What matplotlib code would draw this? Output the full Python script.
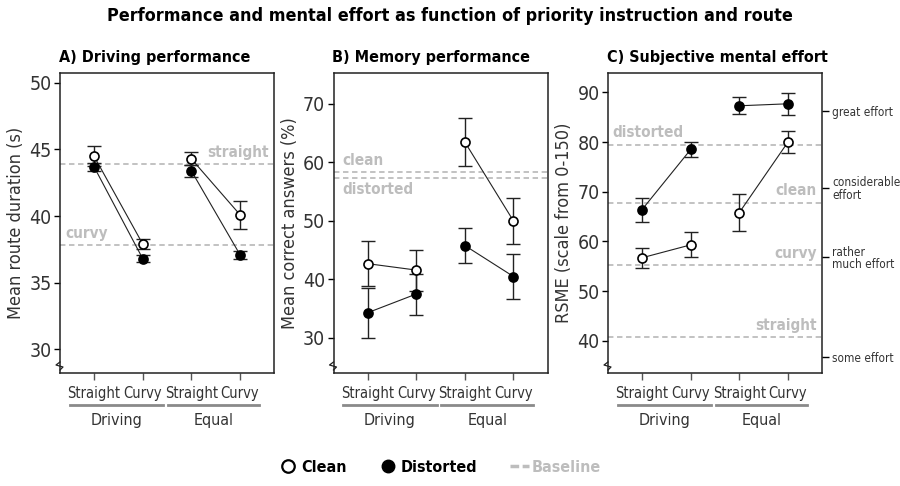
import numpy as np
import matplotlib
matplotlib.use("Agg")
import matplotlib.pyplot as plt
from matplotlib.lines import Line2D

plt.rcParams['font.family'] = ['DejaVu Sans']
plt.rcParams['font.stretch'] = 'condensed'

# categories
routes = ["Straight", "Curvy", "Straight", "Curvy"]
groups = ["Driving", "Equal"]

# A) driving performance: mean route duration (s)
a_clean = [44.5, 37.9, 44.3, 40.1]
a_clean_err = [0.75, 0.35, 0.5, 1.05]
a_dist = [43.7, 36.8, 43.4, 37.1]
a_dist_err = [0.3, 0.25, 0.45, 0.3]
a_base = {"straight": 43.9, "curvy": 37.8}

# B) memory performance: mean correct answers (%)
b_clean = [42.7, 41.6, 63.5, 50.0]
b_clean_err = [3.8, 3.5, 4.1, 4.0]
b_dist = [34.3, 37.5, 45.8, 40.5]
b_dist_err = [4.3, 3.5, 3.0, 3.8]
b_base = {"clean": 58.3, "distorted": 57.4}

# C) subjective mental effort: RSME
c_clean = [56.7, 59.3, 65.8, 80.0]
c_clean_err = [2.0, 2.5, 3.8, 2.3]
c_dist = [66.4, 78.5, 87.3, 87.7]
c_dist_err = [2.4, 1.6, 1.7, 2.2]
c_base = {"distorted": 79.5, "clean": 67.8, "curvy": 55.3, "straight": 40.7}

effort_ticks = [36.8, 56.8, 70.8, 86.2]
effort_labels = ["some effort", "rather\nmuch effort", "considerable\neffort", "great effort"]

BASE_COL = "#bdbdbd"
TXT_COL = "#333333"

fig = plt.figure(figsize=(9, 4.86), dpi=100)
W, H = 900.0, 486.0
AW, AH = 214.0, 300.0


def make_ax(left_px):
    return fig.add_axes([left_px / W, (H - 373) / H, AW / W, AH / H])


def draw_panel(ax, clean, clean_err, dist, dist_err, ylim, yticks, title, ylabel):
    x = np.arange(1, 5)
    for y, e, face in [(dist, dist_err, "black"), (clean, clean_err, "white")]:
        y = np.array(y)
        ax.errorbar(x, y, yerr=e, fmt="none", ecolor="#222222", elinewidth=1,
                    capsize=5, capthick=1, zorder=3)
        for idx in ([0, 1], [2, 3]):
            ax.plot(x[idx], y[idx], color="#222222", lw=0.8, zorder=4)
        ax.plot(x, y, "o", ms=6.5, mfc=face, mec="black", mew=1.2, zorder=5, ls="none")
    ax.set_xlim(0.3, 4.7)
    ax.set_ylim(*ylim)
    ax.set_yticks(yticks)
    ax.set_xticks(x)
    ax.set_xticklabels(routes, fontsize=10.5, color=TXT_COL)
    ax.tick_params(axis="y", labelsize=14, labelcolor=TXT_COL, length=4, width=1, pad=2)
    ax.tick_params(axis="x", length=5, width=1, color="#555555", pad=4)
    for s in ax.spines.values():
        s.set_linewidth(1.1)
        s.set_color("#222222")
    ax.set_ylabel(ylabel, fontsize=13, color=TXT_COL, labelpad=3)
    ax.set_title(title, loc="left", fontsize=11.5, fontweight="bold", pad=8, x=-0.005)
    # group underlines and labels
    tr = ax.get_xaxis_transform()
    for (x0, x1), g in zip([(0.5, 2.42), (2.52, 4.4)], groups):
        ax.add_line(Line2D([x0, x1], [-0.107, -0.107], transform=tr, color="#8a8a8a",
                           lw=2, clip_on=False))
        ax.text((x0 + x1) / 2, -0.157, g, transform=tr, ha="center", va="center",
                fontsize=11.5, color=TXT_COL)
    # axis break mark on the left spine
    y0 = 7 / AH
    ax.plot([0, -4 / AW, 3 / AW, 0],
            [y0 + 4 / AH, y0 + 1 / AH, y0 - 1 / AH, y0 - 4 / AH],
            transform=ax.transAxes, color="#222222", lw=0.9, clip_on=False, zorder=6)


def baseline(ax, y, label, xa, ha, above=True):
    ax.axhline(y, color=BASE_COL, lw=1.3, ls=(0, (3, 2)), zorder=1)
    ax.annotate(label, xy=(xa, y), xycoords=ax.get_yaxis_transform(),
                xytext=(0, 3 if above else -3), textcoords="offset points",
                ha=ha, va="bottom" if above else "top", fontsize=11,
                fontweight="bold", color=BASE_COL)


axA = make_ax(60)
draw_panel(axA, a_clean, a_clean_err, a_dist, a_dist_err, (28.2, 50.75),
           [30, 35, 40, 45, 50], "A) Driving performance", "Mean route duration (s)")
baseline(axA, a_base["straight"], "straight", 0.977, "right")
baseline(axA, a_base["curvy"], "curvy", 0.023, "left")

axB = make_ax(333.5)
draw_panel(axB, b_clean, b_clean_err, b_dist, b_dist_err, (24.0, 75.3),
           [30, 40, 50, 60, 70], "B) Memory performance", "Mean correct answers (%)")
baseline(axB, b_base["clean"], "clean", 0.04, "left")
baseline(axB, b_base["distorted"], "distorted", 0.04, "left", above=False)

axC = make_ax(608)
draw_panel(axC, c_clean, c_clean_err, c_dist, c_dist_err, (33.5, 93.9),
           [40, 50, 60, 70, 80, 90], "C) Subjective mental effort", "RSME (scale from 0-150)")
baseline(axC, c_base["distorted"], "distorted", 0.02, "left")
baseline(axC, c_base["clean"], "clean", 0.975, "right")
baseline(axC, c_base["curvy"], "curvy", 0.975, "right")
baseline(axC, c_base["straight"], "straight", 0.975, "right")

axR = axC.twinx()
axR.set_ylim(axC.get_ylim())
axR.set_yticks(effort_ticks)
axR.set_yticklabels(effort_labels, fontsize=8.5, color=TXT_COL, linespacing=0.95)
axR.tick_params(axis="y", length=5, width=1, pad=2.5)
for s in axR.spines.values():
    s.set_visible(False)

fig.suptitle("Performance and mental effort as function of priority instruction and route",
             x=0.5, y=0.985, fontsize=12.9, fontweight="bold")

handles = [
    Line2D([], [], marker="o", ls="none", ms=9, mfc="white", mec="black", mew=1.6),
    Line2D([], [], marker="o", ls="none", ms=9, mfc="black", mec="black"),
    Line2D([], [], color=BASE_COL, lw=2.5, ls=(0, (2.5, 1))),
]
leg = fig.legend(handles, ["Clean", "Distorted", "Baseline"], loc="center",
                 bbox_to_anchor=(440 / W, 1 - 467 / H), ncol=3, frameon=False,
                 handlelength=1.2, handletextpad=0.2, columnspacing=2.0,
                 prop={"weight": "bold", "size": 11.5})
leg.get_texts()[2].set_color(BASE_COL)

fig.savefig("out.png", dpi=100)
